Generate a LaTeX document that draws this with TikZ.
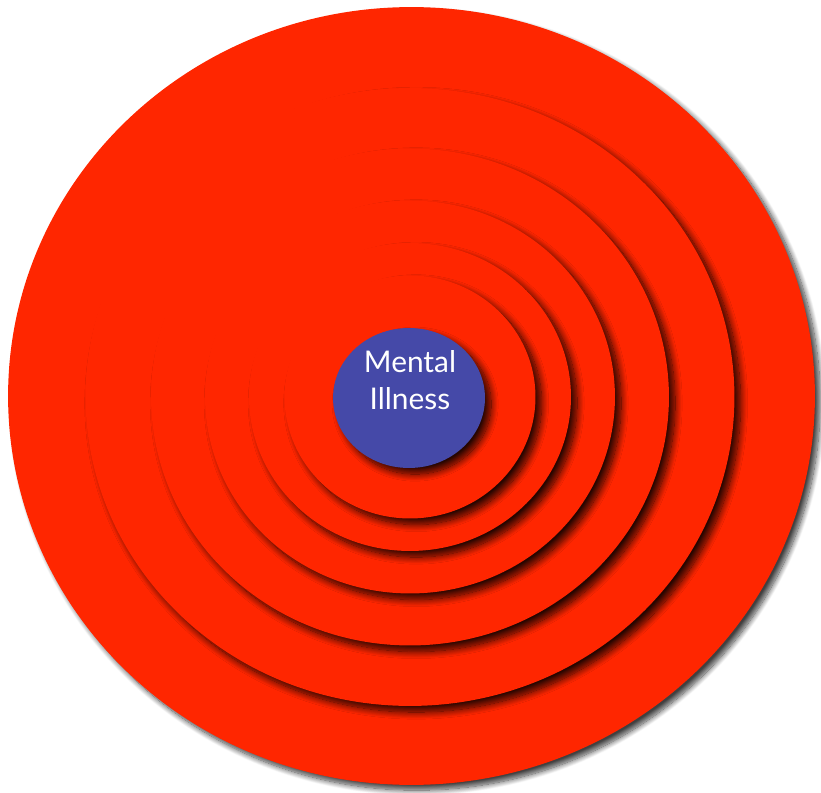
\documentclass[tikz,border=0pt]{standalone}
\usepackage{fontspec}
\setsansfont{Lato}
\usepackage{xcolor}
\usetikzlibrary{positioning,shapes.geometric,shadows.blur}

\definecolor{ringred}{HTML}{FF2600}
\definecolor{coreblue}{HTML}{4549A8}

\begin{document}
\begin{tikzpicture}[x=0.02cm, y=-0.02cm,
  disc/.style={ellipse, inner sep=0pt, fill=ringred},
  outerdisc/.style={disc, blur shadow={shadow xshift=3pt, shadow yshift=-3pt,
    shadow blur radius=3pt, shadow opacity=75, shadow blur steps=12}},
  ring/.style={disc, blur shadow={shadow xshift=3.5pt, shadow yshift=-3.5pt,
    shadow blur radius=4pt, shadow opacity=85, shadow blur steps=14}},
  core/.style={ring, fill=coreblue}]
\useasboundingbox (0,0) rectangle (821,793);
\coordinate (c) at (410,397);
% outer field and the five rings round the core
\node[outerdisc, minimum width=16.14cm, minimum height=15.56cm] (field) at (411.5,396) {};
\node[ring, minimum width=12.98cm, minimum height=12.36cm] (ring5) at (c) {};
\node[ring, minimum width=10.36cm, minimum height=9.94cm] (ring4) at (c) {};
\node[ring, minimum width=8.20cm, minimum height=7.86cm] (ring3) at (c) {};
\node[ring, minimum width=6.44cm, minimum height=6.16cm] (ring2) at (c) {};
\node[ring, minimum width=5.02cm, minimum height=4.86cm] (ring1) at (c) {};
\node[core, minimum width=3.04cm, minimum height=2.80cm] (ill) at (409,398) {};
\node[align=center, text=white, font=\sffamily\fontsize{17}{21}\selectfont] (illtext) at (410,380) {Mental\\Illness};
\end{tikzpicture}
\end{document}
